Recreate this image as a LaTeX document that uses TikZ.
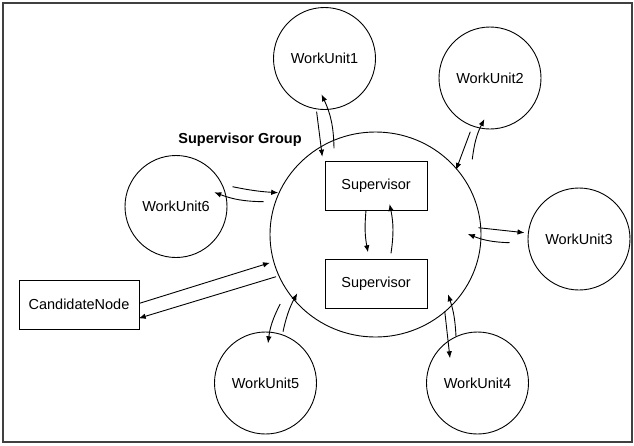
\documentclass[tikz,border=0pt]{standalone}
\usepackage{fontspec}
\setmainfont{Liberation Sans}
\usetikzlibrary{arrows.meta,shapes.geometric}
\begin{document}
\begin{tikzpicture}[x=1pt,y=-1pt,
  every node/.style={font=\fontsize{14.5}{17}\selectfont},
  wu/.style={draw,circle,minimum size=102pt,inner sep=0pt,line width=0.9pt},
  box/.style={draw,rectangle,minimum width=102pt,minimum height=49pt,inner sep=0pt,line width=0.9pt},
  arr/.style={-{Latex[length=7pt,width=5.5pt]},line width=0.9pt}]
\useasboundingbox (0,0) rectangle (634,445);
\draw[line width=1.6pt,black!75] (3,3) rectangle (632,442);
% nodes
\node[draw,ellipse,minimum width=211pt,minimum height=205pt,inner sep=0pt,line width=0.9pt] (grp) at (375.5,234.5) {};
\node[font=\bfseries\fontsize{14.5}{17}\selectfont] (lbl) at (240,140) {Supervisor Group};
\node[box] (sup1) at (376,185.5) {Supervisor};
\node[box] (sup2) at (376,284) {Supervisor};
\node[box,minimum width=120pt] (cand) at (79,304.5) {CandidateNode};
\node[wu] (wu1) at (324.5,58.5) {WorkUnit1};
\node[wu] (wu2) at (490,78) {WorkUnit2};
\node[wu] (wu3) at (579,239) {WorkUnit3};
\node[wu] (wu4) at (477.5,383) {WorkUnit4};
\node[wu] (wu5) at (265.5,383) {WorkUnit5};
\node[wu] (wu6) at (176,206.5) {WorkUnit6};
% free arrow ends
\coordinate (a1s) at (316.6,111.7); \coordinate (a1e) at (322.3,156.7);
\coordinate (b1s) at (334,148.3);   \coordinate (b1e) at (321.5,94.3);
\coordinate (a2s) at (470.3,131.7); \coordinate (a2e) at (456,170);
\coordinate (b2s) at (472.3,159.3); \coordinate (b2e) at (484.4,119);
\coordinate (a3s) at (478.4,227.7); \coordinate (a3e) at (524.5,232.7);
\coordinate (b3s) at (509.5,242.7); \coordinate (b3e) at (467.8,234);
\coordinate (a4s) at (444.8,311.7); \coordinate (a4e) at (450,358.3);
\coordinate (b4s) at (456,336.7);   \coordinate (b4e) at (448,294.3);
\coordinate (a5s) at (280.2,304);   \coordinate (a5e) at (268,343.3);
\coordinate (b5s) at (283,331.7);   \coordinate (b5e) at (297.2,293.3);
\coordinate (a6s) at (232.5,186.7); \coordinate (a6e) at (278.2,192.7);
\coordinate (b6s) at (263.6,201.7); \coordinate (b6e) at (214.3,192.3);
\coordinate (acs) at (139.5,303.3); \coordinate (ace) at (270,262.7);
\coordinate (bcs) at (276,276.7);   \coordinate (bce) at (138.7,318.3);
\coordinate (ass) at (366,210.5);   \coordinate (ase) at (368,252.3);
\coordinate (bss) at (391,253.3);   \coordinate (bse) at (389.6,204);
% arrows
\draw[arr] (a1s) -- (a1e);
\draw[arr] (b1s) to[bend right=12] (b1e);
\draw[arr] (a2s) -- (a2e);
\draw[arr] (b2s) to[bend left=10] (b2e);
\draw[arr] (a3s) -- (a3e);
\draw[arr] (b3s) to[bend left=10] (b3e);
\draw[arr] (a4s) -- (a4e);
\draw[arr] (b4s) to[bend right=8] (b4e);
\draw[arr] (a5s) to[bend right=10] (a5e);
\draw[arr] (b5s) to[bend left=8] (b5e);
\draw[arr] (a6s) to[bend right=4] (a6e);
\draw[arr] (b6s) to[bend left=10] (b6e);
\draw[arr] (acs) -- (ace);
\draw[arr] (bcs) -- (bce);
\draw[arr] (ass) to[bend right=8] (ase);
\draw[arr] (bss) to[bend right=10] (bse);
\end{tikzpicture}
\end{document}
